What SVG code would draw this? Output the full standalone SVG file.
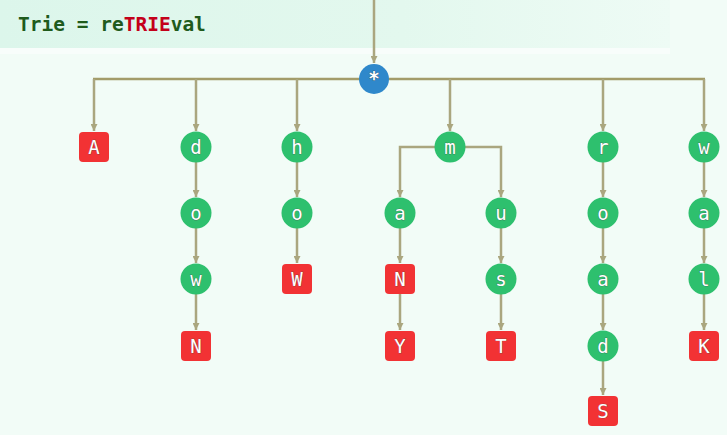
<svg xmlns="http://www.w3.org/2000/svg" width="727" height="435" viewBox="0 0 727 435">
<defs>
<linearGradient id="ban" x1="0" y1="0" x2="1" y2="0">
<stop offset="0" stop-color="#dcf6eb"/>
<stop offset="0.6" stop-color="#e3f8ee"/>
<stop offset="1" stop-color="#eefbf5"/>
</linearGradient>
<marker id="ar" viewBox="0 0 10 10" refX="10" refY="5" markerWidth="7" markerHeight="7" markerUnits="userSpaceOnUse" orient="auto">
<path d="M0,0 L10,5 L0,10 Z" fill="#aaa67f"/>
</marker>
</defs>
<style>
.bg{fill:#f2fcf7}
.ea{stroke:#aaa67f;stroke-width:2.5;fill:none;marker-end:url(#ar)}
.g{fill:#2ec06e}
.r{fill:#f23234}
.b{fill:#2f88cb}
.t{font-family:"DejaVu Sans Mono","Liberation Mono",monospace;font-size:19px;fill:#fff;text-anchor:middle;stroke:#4a4a4a;stroke-width:0.5;paint-order:stroke}
.h{font-family:"DejaVu Sans Mono","Liberation Mono",monospace;font-weight:bold;font-size:19.5px;fill:#1f5b1c}
</style>
<rect class="bg" x="0" y="0" width="727" height="435"/>
<rect x="0" y="0" width="670" height="48" fill="url(#ban)"/>
<rect x="0" y="48" width="670" height="6" fill="#f8fdfb"/>
<text class="h" x="18" y="31">Trie = re<tspan fill="#c4001a">TRIE</tspan>val</text>
<g id="connectors">
<line class="ea" x1="374" y1="0" x2="374" y2="63"/>
<line x1="93" y1="79" x2="705" y2="79" stroke="#a39c6a" stroke-width="2.5"/>
<line class="ea" x1="94" y1="79" x2="94" y2="131"/>
<line class="ea" x1="196" y1="79" x2="196" y2="131"/>
<line class="ea" x1="297" y1="79" x2="297" y2="131"/>
<line class="ea" x1="450" y1="79" x2="450" y2="131"/>
<line class="ea" x1="603" y1="79" x2="603" y2="131"/>
<line class="ea" x1="704" y1="79" x2="704" y2="131"/>
<line class="ea" x1="196" y1="162" x2="196" y2="197"/>
<line class="ea" x1="196" y1="228" x2="196" y2="263"/>
<line class="ea" x1="196" y1="294" x2="196" y2="330"/>
<line class="ea" x1="297" y1="162" x2="297" y2="197"/>
<line class="ea" x1="297" y1="228" x2="297" y2="263"/>
<polyline class="ea" points="435,147 400,147 400,197"/>
<polyline class="ea" points="465,147 501,147 501,197"/>
<line class="ea" x1="400" y1="228" x2="400" y2="263"/>
<line class="ea" x1="400" y1="294" x2="400" y2="330"/>
<line class="ea" x1="501" y1="228" x2="501" y2="263"/>
<line class="ea" x1="501" y1="294" x2="501" y2="330"/>
<line class="ea" x1="603" y1="162" x2="603" y2="197"/>
<line class="ea" x1="603" y1="228" x2="603" y2="263"/>
<line class="ea" x1="603" y1="294" x2="603" y2="330"/>
<line class="ea" x1="603" y1="361" x2="603" y2="395"/>
<line class="ea" x1="704" y1="162" x2="704" y2="197"/>
<line class="ea" x1="704" y1="228" x2="704" y2="263"/>
<line class="ea" x1="704" y1="294" x2="704" y2="330"/>
</g>
<g id="root"><circle class="b" cx="374" cy="79" r="15"/><text class="t" x="374" y="85" style="font-weight:bold">*</text></g>
<g id="n-A"><rect class="r" x="79" y="132" width="30" height="30" rx="4"/><text class="t" x="94" y="154">A</text></g>
<g id="n-d"><circle class="g" cx="196" cy="147" r="15.5"/><text class="t" x="196" y="154">d</text></g>
<g id="n-do"><circle class="g" cx="196" cy="213" r="15.5"/><text class="t" x="196" y="220">o</text></g>
<g id="n-dow"><circle class="g" cx="196" cy="279" r="15.5"/><text class="t" x="196" y="286">w</text></g>
<g id="n-DOWN"><rect class="r" x="181" y="331" width="30" height="30" rx="4"/><text class="t" x="196" y="353">N</text></g>
<g id="n-h"><circle class="g" cx="297" cy="147" r="15.5"/><text class="t" x="297" y="154">h</text></g>
<g id="n-ho"><circle class="g" cx="297" cy="213" r="15.5"/><text class="t" x="297" y="220">o</text></g>
<g id="n-HOW"><rect class="r" x="282" y="264" width="30" height="30" rx="4"/><text class="t" x="297" y="286">W</text></g>
<g id="n-m"><circle class="g" cx="450" cy="147" r="15.5"/><text class="t" x="450" y="154">m</text></g>
<g id="n-ma"><circle class="g" cx="400" cy="213" r="15.5"/><text class="t" x="400" y="220">a</text></g>
<g id="n-MAN"><rect class="r" x="385" y="264" width="30" height="30" rx="4"/><text class="t" x="400" y="286">N</text></g>
<g id="n-MANY"><rect class="r" x="385" y="331" width="30" height="30" rx="4"/><text class="t" x="400" y="353">Y</text></g>
<g id="n-mu"><circle class="g" cx="501" cy="213" r="15.5"/><text class="t" x="501" y="220">u</text></g>
<g id="n-mus"><circle class="g" cx="501" cy="279" r="15.5"/><text class="t" x="501" y="286">s</text></g>
<g id="n-MUST"><rect class="r" x="486" y="331" width="30" height="30" rx="4"/><text class="t" x="501" y="353">T</text></g>
<g id="n-r"><circle class="g" cx="603" cy="147" r="15.5"/><text class="t" x="603" y="154">r</text></g>
<g id="n-ro"><circle class="g" cx="603" cy="213" r="15.5"/><text class="t" x="603" y="220">o</text></g>
<g id="n-roa"><circle class="g" cx="603" cy="279" r="15.5"/><text class="t" x="603" y="286">a</text></g>
<g id="n-road"><circle class="g" cx="603" cy="346" r="15.5"/><text class="t" x="603" y="353">d</text></g>
<g id="n-ROADS"><rect class="r" x="588" y="396" width="30" height="30" rx="4"/><text class="t" x="603" y="418">S</text></g>
<g id="n-w"><circle class="g" cx="704" cy="147" r="15.5"/><text class="t" x="704" y="154">w</text></g>
<g id="n-wa"><circle class="g" cx="704" cy="213" r="15.5"/><text class="t" x="704" y="220">a</text></g>
<g id="n-wal"><circle class="g" cx="704" cy="279" r="15.5"/><text class="t" x="704" y="286">l</text></g>
<g id="n-WALK"><rect class="r" x="689" y="331" width="30" height="30" rx="4"/><text class="t" x="704" y="353">K</text></g>
</svg>
